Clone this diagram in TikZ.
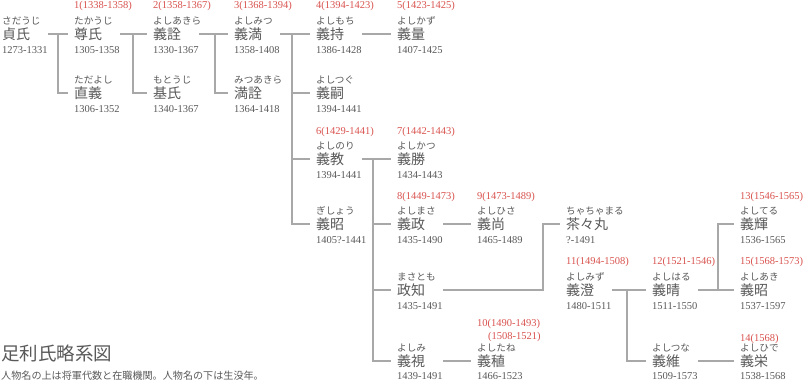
\documentclass[tikz,border=0pt]{standalone}
\usepackage{fontspec}
\setmainfont{Liberation Serif}
\newfontfamily\jpf{Noto Sans CJK JP}
\definecolor{txt}{HTML}{595959}
\definecolor{rdc}{HTML}{D9534F}
\definecolor{lnc}{HTML}{A8A8A8}
\tikzset{
 nm/.style={anchor=west, inner xsep=6pt, inner ysep=0pt, text width=40pt, align=left,
   text height=12pt, text depth=1.2pt, font=\jpf\fontsize{14}{15}\selectfont, text=txt},
 rb/.style={anchor=base west, inner sep=0pt, font=\jpf\fontsize{9.6}{10}\selectfont, text=txt},
 dt/.style={anchor=base west, inner sep=0pt, font=\fontsize{10.5}{11}\selectfont, text=txt},
 rd/.style={anchor=base west, inner sep=0pt, font=\fontsize{10.5}{11}\selectfont, text=rdc},
 ln/.style={draw=lnc, line width=1.1pt},
}
\newcommand\pers[6]{%
 \node[nm] (#1) at ({#2-6},{#3}) {#4};
 \node[rb] (#1-r) at ({#2},{#3-9.5}) {#5};
 \node[dt] (#1-d) at ({#2},{min(#3+20,379)}) {#6};}
\begin{document}
\begin{tikzpicture}[x=1pt,y=-1pt]
\fill[white] (0,0) rectangle (804,382);
\useasboundingbox (0,0) rectangle (804,382);
% persons
\pers{sadauji}{2}{34}{貞氏}{さだうじ}{1273-1331}
\pers{takauji}{74}{34}{尊氏}{たかうじ}{1305-1358}
\pers{tadayoshi}{74}{93}{直義}{ただよし}{1306-1352}
\pers{yoshiakira}{153}{34}{義詮}{よしあきら}{1330-1367}
\pers{motouji}{153}{93}{基氏}{もとうじ}{1340-1367}
\pers{yoshimitsu}{234}{34}{義満}{よしみつ}{1358-1408}
\pers{mitsuakira}{234}{93}{満詮}{みつあきら}{1364-1418}
\pers{yoshimochi}{316}{34}{義持}{よしもち}{1386-1428}
\pers{yoshitsugu}{316}{93}{義嗣}{よしつぐ}{1394-1441}
\pers{yoshinori}{316}{159}{義教}{よしのり}{1394-1441}
\pers{gisho}{316}{224}{義昭}{ぎしょう}{1405?-1441}
\pers{yoshikazu}{397}{34}{義量}{よしかず}{1407-1425}
\pers{yoshikatsu}{397}{159}{義勝}{よしかつ}{1434-1443}
\pers{yoshimasa}{397}{224}{義政}{よしまさ}{1435-1490}
\pers{masatomo}{397}{290}{政知}{まさとも}{1435-1491}
\pers{yoshimi}{397}{361}{義視}{よしみ}{1439-1491}
\pers{yoshihisa}{477}{224}{義尚}{よしひさ}{1465-1489}
\pers{yoshitane}{477}{361}{義稙}{よしたね}{1466-1523}
\pers{chachamaru}{566}{224}{茶々丸}{ちゃちゃまる}{?-1491}
\pers{yoshizumi}{566}{290}{義澄}{よしみず}{1480-1511}
\pers{yoshiharu}{652}{290}{義晴}{よしはる}{1511-1550}
\pers{yoshitsuna}{652}{361}{義維}{よしつな}{1509-1573}
\pers{yoshiteru}{740}{224}{義輝}{よしてる}{1536-1565}
\pers{yoshiaki}{740}{290}{義昭}{よしあき}{1537-1597}
\pers{yoshihide}{740}{361}{義栄}{よしひで}{1538-1568}
% shogun numbers
\node[rd] (n1) at (74,8.5) {1(1338-1358)};
\node[rd] (n2) at (153,8.5) {2(1358-1367)};
\node[rd] (n3) at (234,8.5) {3(1368-1394)};
\node[rd] (n4) at (316,8.5) {4(1394-1423)};
\node[rd] (n5) at (397,8.5) {5(1423-1425)};
\node[rd] (n6) at (316,134.5) {6(1429-1441)};
\node[rd] (n7) at (397,134.5) {7(1442-1443)};
\node[rd] (n8) at (397,200) {8(1449-1473)};
\node[rd] (n9) at (477,200) {9(1473-1489)};
\node[rd] (n13) at (740,200) {13(1546-1565)};
\node[rd] (n11) at (566,264.5) {11(1494-1508)};
\node[rd] (n12) at (652,264.5) {12(1521-1546)};
\node[rd] (n15) at (740,264.5) {15(1568-1573)};
\node[rd] (n10a) at (477,326.5) {10(1490-1493)};
\node[rd] (n10b) at (488,340) {(1508-1521)};
\node[rd] (n14) at (740,341.5) {14(1568)};
% junctions
\coordinate (j0) at (58,34);
\coordinate (j1) at (133,34);
\coordinate (j2) at (215,34);
\coordinate (j3) at (292,34);
\coordinate (j4) at (373,159);
\coordinate (j5) at (543,290);
\coordinate (j6) at (627,290);
\coordinate (j7) at (718,290);
% connectors
\draw[ln] (sadauji.east) -- (takauji.west);
\draw[ln] (j0) |- (tadayoshi.west);
\draw[ln] (takauji.east) -- (yoshiakira.west);
\draw[ln] (j1) |- (motouji.west);
\draw[ln] (yoshiakira.east) -- (yoshimitsu.west);
\draw[ln] (j2) |- (mitsuakira.west);
\draw[ln] (yoshimitsu.east) -- (yoshimochi.west);
\draw[ln] (j3) |- (gisho.west);
\draw[ln] (j3) |- (yoshitsugu.west);
\draw[ln] (j3) |- (yoshinori.west);
\draw[ln] (yoshimochi.east) -- (yoshikazu.west);
\draw[ln] (yoshinori.east) -- (yoshikatsu.west);
\draw[ln] (j4) |- (yoshimi.west);
\draw[ln] (j4) |- (yoshimasa.west);
\draw[ln] (j4) |- (masatomo.west);
\draw[ln] (yoshimasa.east) -- (yoshihisa.west);
\draw[ln] (yoshimi.east) -- (yoshitane.west);
\draw[ln] (masatomo.east) -- (j5) |- (chachamaru.west);
\draw[ln] (yoshizumi.east) -- (yoshiharu.west);
\draw[ln] (j6) |- (yoshitsuna.west);
\draw[ln] (yoshiharu.east) -- (yoshiaki.west);
\draw[ln] (j7) |- (yoshiteru.west);
\draw[ln] (yoshitsuna.east) -- (yoshihide.west);
% title
\node[anchor=base west, inner sep=0pt, font=\jpf\fontsize{18.5}{20}\selectfont, text=txt] (title) at (1,360.5) {足利氏略系図};
\node[anchor=base west, inner sep=0pt, font=\jpf\fontsize{10.1}{11}\selectfont, text=txt] (note) at (1,379) {人物名の上は将軍代数と在職機関。人物名の下は生没年。};
\end{tikzpicture}
\end{document}
